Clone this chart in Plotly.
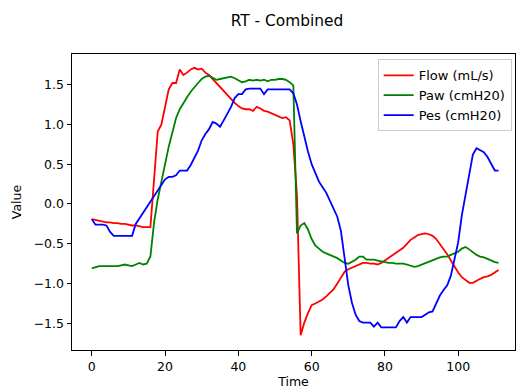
import plotly.graph_objects as go

time = list(range(112))

flow = [-0.19, -0.20, -0.21, -0.22, -0.23, -0.23, -0.24, -0.24, -0.25, -0.25,
        -0.26, -0.27, -0.27, -0.28, -0.29, -0.29, -0.29, 0.31, 0.91, 1.00,
        1.21, 1.44, 1.52, 1.52, 1.69, 1.62, 1.65, 1.69, 1.71, 1.69,
        1.70, 1.65, 1.62, 1.57, 1.51, 1.46, 1.42, 1.37, 1.31, 1.27,
        1.23, 1.20, 1.19, 1.19, 1.17, 1.22, 1.20, 1.17, 1.16, 1.14,
        1.11, 1.09, 1.08, 1.09, 1.05, 0.75, 0.11, -1.65, -1.49, -1.37,
        -1.27, -1.25, -1.23, -1.20, -1.16, -1.11, -1.07, -1.00, -0.93, -0.85,
        -0.82, -0.80, -0.78, -0.76, -0.74, -0.74, -0.75, -0.75, -0.76, -0.74,
        -0.71, -0.68, -0.65, -0.62, -0.59, -0.55, -0.50, -0.45, -0.42, -0.39,
        -0.38, -0.37, -0.38, -0.40, -0.44, -0.50, -0.56, -0.63, -0.71, -0.79,
        -0.86, -0.92, -0.96, -0.99, -0.99, -0.96, -0.94, -0.92, -0.91, -0.89,
        -0.86, -0.83]

paw = [-0.81, -0.79, -0.78, -0.78, -0.78, -0.78, -0.78, -0.78, -0.77, -0.76,
       -0.77, -0.78, -0.76, -0.74, -0.76, -0.75, -0.66, -0.23, 0.06, 0.26,
       0.50, 0.72, 0.92, 1.08, 1.19, 1.27, 1.34, 1.41, 1.47, 1.52,
       1.57, 1.60, 1.61, 1.58, 1.56, 1.57, 1.58, 1.59, 1.60, 1.58,
       1.55, 1.53, 1.54, 1.56, 1.55, 1.56, 1.55, 1.56, 1.54, 1.56,
       1.56, 1.57, 1.57, 1.56, 1.53, 1.49, -0.37, -0.27, -0.24, -0.32,
       -0.44, -0.52, -0.56, -0.60, -0.62, -0.64, -0.66, -0.68, -0.71, -0.74,
       -0.75, -0.73, -0.70, -0.66, -0.66, -0.70, -0.70, -0.70, -0.71, -0.72,
       -0.73, -0.74, -0.74, -0.75, -0.75, -0.75, -0.76, -0.78, -0.79, -0.78,
       -0.76, -0.75, -0.72, -0.70, -0.68, -0.67, -0.66, -0.66, -0.64, -0.62,
       -0.60, -0.56, -0.54, -0.57, -0.61, -0.64, -0.66, -0.67, -0.69, -0.71,
       -0.73, -0.74]

pes = [-0.19, -0.26, -0.26, -0.26, -0.27, -0.35, -0.40, -0.40, -0.40, -0.40,
       -0.40, -0.40, -0.25, -0.18, -0.11, -0.04, 0.03, 0.10, 0.17, 0.24,
       0.31, 0.34, 0.34, 0.36, 0.42, 0.42, 0.42, 0.49, 0.58, 0.67,
       0.80, 0.88, 0.94, 1.03, 1.01, 0.97, 1.05, 1.13, 1.22, 1.33,
       1.38, 1.38, 1.44, 1.45, 1.45, 1.45, 1.45, 1.38, 1.44, 1.44,
       1.44, 1.44, 1.44, 1.44, 1.44, 1.39, 1.25, 1.04, 0.84, 0.66,
       0.50, 0.38, 0.28, 0.21, 0.14, 0.04, -0.05, -0.16, -0.34, -0.68,
       -1.02, -1.24, -1.39, -1.47, -1.49, -1.49, -1.49, -1.54, -1.49, -1.55,
       -1.55, -1.55, -1.55, -1.55, -1.47, -1.42, -1.49, -1.42, -1.42, -1.42,
       -1.42, -1.39, -1.36, -1.35, -1.25, -1.15, -1.08, -1.02, -0.90, -0.70,
       -0.48, -0.14, 0.11, 0.39, 0.62, 0.70, 0.68, 0.65, 0.59, 0.50,
       0.42, 0.42]

series_names = ["Flow (mL/s)", "Paw (cmH20)", "Pes (cmH20)"]
series_colors = ["#ff0000", "#008000", "#0000ff"]
x_ticks = [0, 20, 40, 60, 80, 100]
y_ticks = [-1.5, -1.0, -0.5, 0.0, 0.5, 1.0, 1.5]
y_tick_text = ["\u22121.5", "\u22121.0", "\u22120.5", "0.0", "0.5", "1.0", "1.5"]

FONT = "DejaVu Sans"

fig = go.Figure()
for name, vals, col in zip(series_names, [flow, paw, pes], series_colors):
    fig.add_trace(go.Scatter(x=time, y=vals, mode="lines", name=name,
                             line=dict(color=col, width=1.8)))

fig.update_layout(
    width=516, height=391,
    margin=dict(l=72, r=1, t=54, b=41),
    paper_bgcolor="white", plot_bgcolor="white",
    font=dict(family=FONT, size=12.5, color="black"),
    title=dict(text="RT - Combined", x=287 / 516, xref="container", xanchor="center",
               y=1 - 21 / 391, yref="container", yanchor="middle",
               font=dict(family=FONT, size=15.4, color="black")),
    legend=dict(x=0.69, y=0.982, xanchor="left", yanchor="top",
                bgcolor="rgba(255,255,255,0.8)", bordercolor="#cccccc", borderwidth=1,
                font=dict(family=FONT, size=13, color="black")),
    showlegend=True,
)
fig.update_xaxes(range=[-5.4, 115.5], tickmode="array", tickvals=x_ticks,
                 ticks="outside", ticklen=4.5, tickwidth=1, tickcolor="black",
                 showline=True, linecolor="black", linewidth=1, mirror=True,
                 showgrid=False, zeroline=False,
                 title=dict(text="Time", standoff=4, font=dict(size=12.5)))
fig.update_yaxes(range=[-1.834, 1.884], tickmode="array", tickvals=y_ticks,
                 ticktext=y_tick_text,
                 ticks="outside", ticklen=4.5, tickwidth=1, tickcolor="black",
                 showline=True, linecolor="black", linewidth=1, mirror=True,
                 showgrid=False, zeroline=False,
                 title=dict(text="Value", standoff=9, font=dict(size=12.5)))

fig.write_html("out.html")
